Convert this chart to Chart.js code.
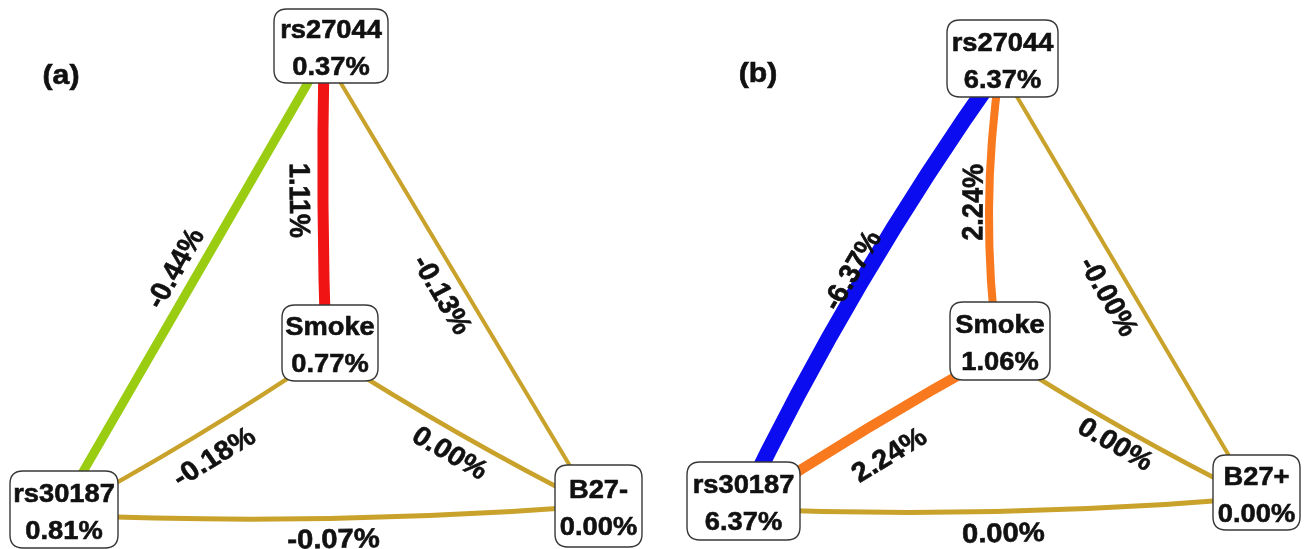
<!DOCTYPE html>
<html><head><meta charset="utf-8">
<script src="https://cdn.jsdelivr.net/npm/chart.js@4"></script>
<style>html,body{margin:0;padding:0;background:#fff;overflow:hidden}canvas{display:block}</style>
</head><body>
<canvas id="c" width="1306" height="549" style="width:1306px;height:549px"></canvas>
<script>
// ---------- data ----------
const nodeNamesA = ['rs27044', 'Smoke', 'rs30187', 'B27-'];
const nodeNamesB = ['rs27044', 'Smoke', 'rs30187', 'B27+'];
const nodeValuesA = [0.37, 0.77, 0.81, 0.00];
const nodeValuesB = [6.37, 1.06, 6.37, 0.00];
const edgePairs = [[0, 2], [0, 1], [0, 3], [1, 2], [1, 3], [2, 3]];
const edgeValuesA = [-0.44, 1.11, -0.13, -0.18, 0.00, -0.07];
const edgeValuesB = [-6.37, 2.24, -0, 2.24, 0.00, 0.00];
const panelLabels = ['(a)', '(b)'];

// ---------- layout (node anchor positions, plot units) ----------
const layoutXA = [324, 326, 58, 594];
const layoutYA = [55, 353, 515, 506];
const layoutXB = [1000, 998, 740, 1254];
const layoutYB = [68, 353, 509, 498];

// ---------- styles ----------
const GOLD = '#C9A22B';
const FONT = '"Liberation Sans", Arial, sans-serif';
const styleA = {
  boxes: [[7, -9, 114, 74], [4, -10, 96, 76], [6, -5.5, 108, 77], [4.5, 0, 87, 82]],
  colors: ['#9ACD12', '#F01414', GOLD, GOLD, GOLD, GOLD],
  widths: [9, 11, 4, 4.5, 4.5, 5],
  bends: [0, 4, 0, -8, 8, 16],
  labelPos: [[21, -6.5], [27, -3.7], [23, 3.5], [-32, -7], [26.5, 3], [30, 7]],
  labelDir: [-1, 1, 1, -1, 1, 1],
  panelLabel: [61, 76]
};
const styleB = {
  boxes: [[2.5, -9.5, 111, 77], [2, -12, 100, 78], [3.5, -8, 113, 78], [2.5, -5.5, 87, 75]],
  colors: ['#0C0CF0', '#F97A1E', GOLD, '#F97A1E', GOLD, GOLD],
  widths: [16, 8, 4, 10, 4.5, 5],
  bends: [22, 20, 0, 6, 8, 16],
  labelPos: [[23.5, -6.5], [24.5, -8], [24, 2.2], [-32, -5], [22.5, 0], [31, 5.7]],
  labelDir: [-1, -1, 1, -1, 1, 1],
  panelLabel: [758, 74]
};
const EDGE_FONT = 27, EDGE_SX = 1.08;
const NODE_FONT = 26, NODE_SX = 1.05;
const PANEL_FONT = 28, PANEL_SX = 1.08;

function fmt(v) {
  const neg = v < 0 || Object.is(v, -0);
  return (neg ? '-' : '') + Math.abs(v).toFixed(2) + '%';
}

const panels = [
  { names: nodeNamesA, values: nodeValuesA, edges: edgeValuesA, style: styleA, label: panelLabels[0] },
  { names: nodeNamesB, values: nodeValuesB, edges: edgeValuesB, style: styleB, label: panelLabels[1] }
];

function geom(A, B) {
  const dx = B.x - A.x, dy = B.y - A.y, L = Math.hypot(dx, dy);
  const tx = dx / L, ty = dy / L;
  return { tx, ty, nx: -ty, ny: tx, mx: (A.x + B.x) / 2, my: (A.y + B.y) / 2 };
}

function roundRect(ctx, x, y, w, h, r) {
  ctx.beginPath();
  ctx.moveTo(x + r, y);
  ctx.lineTo(x + w - r, y);
  ctx.quadraticCurveTo(x + w, y, x + w, y + r);
  ctx.lineTo(x + w, y + h - r);
  ctx.quadraticCurveTo(x + w, y + h, x + w - r, y + h);
  ctx.lineTo(x + r, y + h);
  ctx.quadraticCurveTo(x, y + h, x, y + h - r);
  ctx.lineTo(x, y + r);
  ctx.quadraticCurveTo(x, y, x + r, y);
  ctx.closePath();
}

// draw text centred at (x,y), stretched horizontally by sx, running along screen direction (ux,uy)
function stretchedText(ctx, txt, x, y, sx, ux, uy) {
  ctx.save();
  ctx.translate(x, y);
  ctx.scale(sx, 1);
  ctx.rotate(Math.atan2(sx * uy, ux));
  ctx.lineWidth = 0.6;
  ctx.strokeStyle = ctx.fillStyle;
  ctx.fillText(txt, 0, 0);
  ctx.strokeText(txt, 0, 0);
  ctx.restore();
}

const networkPlugin = {
  id: 'network',
  beforeDatasetsDraw(chart) {
    const ctx = chart.ctx;
    panels.forEach((p, k) => {
      const pts = chart.getDatasetMeta(k).data;
      const st = p.style;
      ctx.save();
      edgePairs.forEach((pr, e) => {
        const A = pts[pr[0]], B = pts[pr[1]];
        const g = geom(A, B);
        const cx = g.mx + g.nx * st.bends[e], cy = g.my + g.ny * st.bends[e];
        ctx.beginPath();
        ctx.moveTo(A.x, A.y);
        ctx.quadraticCurveTo(cx, cy, B.x, B.y);
        ctx.lineWidth = st.widths[e];
        ctx.strokeStyle = st.colors[e];
        ctx.lineCap = 'butt';
        ctx.stroke();
      });
      ctx.restore();
    });
  },
  afterDatasetsDraw(chart) {
    const ctx = chart.ctx;
    panels.forEach((p, k) => {
      const pts = chart.getDatasetMeta(k).data;
      const st = p.style;
      // edge labels
      ctx.save();
      ctx.fillStyle = '#111';
      ctx.font = 'bold ' + EDGE_FONT + 'px ' + FONT;
      ctx.textAlign = 'center';
      ctx.textBaseline = 'middle';
      edgePairs.forEach((pr, e) => {
        const A = pts[pr[0]], B = pts[pr[1]];
        const g = geom(A, B);
        const [perp, along] = st.labelPos[e];
        const lx = g.mx + g.nx * perp + g.tx * along;
        const ly = g.my + g.ny * perp + g.ty * along;
        const d = st.labelDir[e];
        stretchedText(ctx, fmt(p.edges[e]), lx, ly, EDGE_SX, g.tx * d, g.ty * d);
      });
      ctx.restore();
      // nodes
      ctx.save();
      pts.forEach((pt, i) => {
        const [bx, by, bw, bh] = st.boxes[i];
        const cx = pt.x + bx, cy = pt.y + by;
        roundRect(ctx, cx - bw / 2, cy - bh / 2, bw, bh, 13);
        ctx.fillStyle = '#fff';
        ctx.fill();
        ctx.lineWidth = 1.4;
        ctx.strokeStyle = '#383838';
        ctx.stroke();
        ctx.fillStyle = '#111';
        ctx.font = 'bold ' + NODE_FONT + 'px ' + FONT;
        ctx.textAlign = 'center';
        ctx.textBaseline = 'alphabetic';
        stretchedText(ctx, p.names[i], cx, cy - 8, NODE_SX, 1, 0);
        stretchedText(ctx, fmt(p.values[i]), cx, cy + 29, NODE_SX, 1, 0);
      });
      // panel label
      ctx.fillStyle = '#111';
      ctx.font = 'bold ' + PANEL_FONT + 'px ' + FONT;
      ctx.textAlign = 'center';
      ctx.textBaseline = 'middle';
      stretchedText(ctx, p.label, chart.scales.x.getPixelForValue(st.panelLabel[0]), chart.scales.y.getPixelForValue(st.panelLabel[1]), PANEL_SX, 1, 0);
      ctx.restore();
    });
  }
};

new Chart(document.getElementById('c'), {
  type: 'scatter',
  data: {
    datasets: [
      { label: 'a', data: layoutXA.map((x, i) => ({ x, y: layoutYA[i] })), pointRadius: 0, pointHoverRadius: 0 },
      { label: 'b', data: layoutXB.map((x, i) => ({ x, y: layoutYB[i] })), pointRadius: 0, pointHoverRadius: 0 }
    ]
  },
  options: {
    responsive: false,
    animation: false,
    events: [],
    layout: { padding: 0 },
    plugins: { legend: { display: false }, tooltip: { enabled: false } },
    scales: {
      x: { type: 'linear', min: 0, max: 1306, display: false },
      y: { type: 'linear', min: 0, max: 549, reverse: true, display: false }
    }
  },
  plugins: [networkPlugin]
});
</script>
</body></html>
